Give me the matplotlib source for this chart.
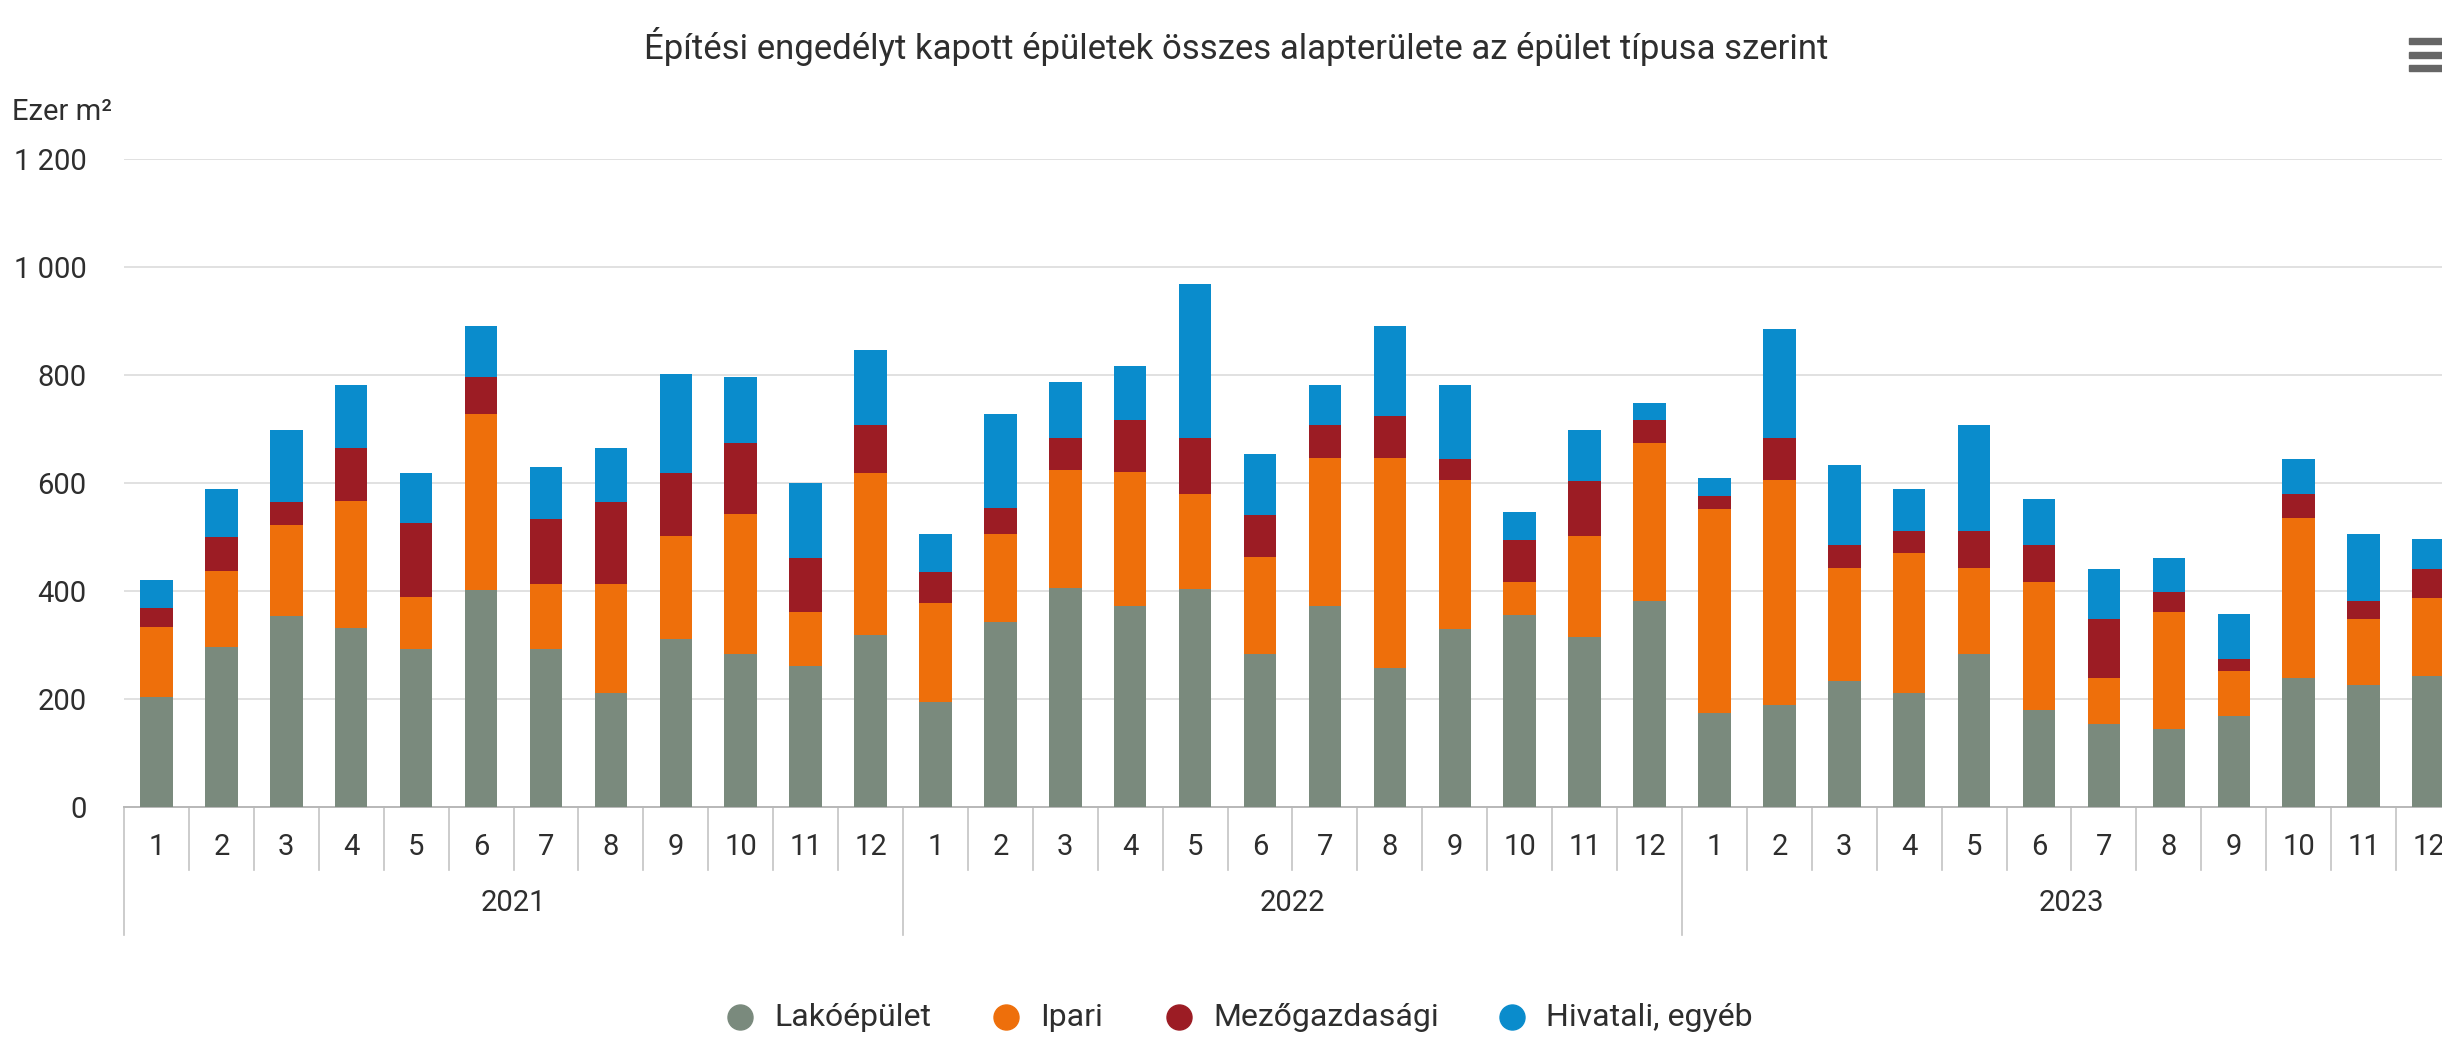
import matplotlib
matplotlib.use("Agg")
import matplotlib.pyplot as plt
import matplotlib.transforms as mtransforms
from matplotlib.lines import Line2D
from matplotlib.patches import Rectangle
import numpy as np

plt.rcParams["font.family"] = ["Roboto", "DejaVu Sans"]

# Data (ezer m2), 2021-01 .. 2023-12
years = ["2021", "2022", "2023"]
months = [str(m) for m in range(1, 13)]
series_names = ["Lakóépület", "Ipari", "Mezőgazdasági", "Hivatali, egyéb"]
colors = ["#7a8a7d", "#ee6f0b", "#9c1c24", "#0a8ccc"]

lakoepulet = [204, 296, 354, 332, 293, 401, 293, 211, 312, 284, 262, 318,
              195, 343, 406, 372, 404, 284, 372, 257, 329, 356, 314, 381,
              175, 188, 233, 211, 283, 179, 154, 145, 168, 239, 226, 242]
ipari = [130, 141, 168, 234, 95, 327, 120, 202, 190, 258, 100, 301,
         183, 163, 219, 249, 176, 179, 274, 389, 276, 61, 188, 293,
         377, 417, 209, 260, 159, 238, 85, 216, 83, 296, 122, 145]
mezogazdasagi = [34, 63, 43, 98, 138, 68, 121, 152, 117, 132, 100, 89,
                 57, 48, 58, 96, 103, 78, 62, 78, 39, 78, 102, 43,
                 24, 78, 44, 40, 69, 69, 109, 38, 23, 45, 33, 54]
hivatali = [53, 89, 134, 118, 93, 95, 96, 99, 183, 122, 138, 139,
            70, 174, 104, 99, 286, 113, 74, 167, 138, 51, 95, 31,
            34, 202, 148, 78, 197, 84, 93, 63, 83, 64, 124, 55]

W, H = 2442, 1054
fig = plt.figure(figsize=(W / 100, H / 100), dpi=100)
ax = fig.add_axes([124 / W, 1 - 807 / H, 2337 / W, 648 / H])

text_col = "#2e2e2e"
fs = 21

n = len(lakoepulet)
x = np.arange(n)
bottom = np.zeros(n)
for vals, col in zip([lakoepulet, ipari, mezogazdasagi, hivatali], colors):
    ax.bar(x, vals, width=0.5, bottom=bottom, color=col, zorder=3)
    bottom += np.array(vals)

ax.set_xlim(-0.5, n - 0.5)
ax.set_ylim(0, 1200)
ax.set_yticks(range(0, 1201, 200))
ax.set_yticklabels([f"{v:,}".replace(",", " ") for v in range(0, 1201, 200)],
                   fontsize=fs, color=text_col)
ax.tick_params(axis="y", length=0, pad=27)
ax.set_xticks([])
for v in range(200, 1201, 200):
    ax.axhline(v, color="#dcdcdc", linewidth=1.2, zorder=1)
for s in ["top", "right", "left"]:
    ax.spines[s].set_visible(False)
ax.spines["bottom"].set_color("#b8b8b8")
ax.spines["bottom"].set_linewidth(1.4)

# hierarchical x axis
trans = mtransforms.blended_transform_factory(ax.transData, ax.transAxes)
ah = 648.0
for i in range(n + 1):
    xb = i - 0.5
    depth = 128 if i % 12 == 0 else 63
    ax.plot([xb, xb], [0, -depth / ah], transform=trans, color="#c4c4c4",
            linewidth=1.2, clip_on=False)
for i in range(n):
    ax.text(i, -40 / ah, months[i % 12], transform=trans, ha="center",
            va="center", fontsize=fs, color=text_col)
for k, yr in enumerate(years):
    ax.text(k * 12 + 5.5, -96 / ah, yr, transform=trans, ha="center",
            va="center", fontsize=fs, color=text_col)

# title and unit
fig.text(1236 / W, 1 - 47 / H,
         "Építési engedélyt kapott épületek összes alapterülete az épület típusa szerint",
         ha="center", va="center", fontsize=25, color=text_col)
fig.text(12 / W, 1 - 112 / H, "Ezer m²", ha="left", va="center",
         fontsize=fs, color=text_col)

# menu icon
for yy in [38, 52, 65]:
    fig.add_artist(Rectangle((2409 / W, 1 - (yy + 6) / H), 40 / W, 6 / H,
                             transform=fig.transFigure, color="#666666"))

# legend
leg_y = 1 - 1017 / H
marker_x = [740, 1006, 1179, 1512]
for mx, name, col in zip(marker_x, series_names, colors):
    fig.add_artist(Line2D([mx / W], [leg_y], marker="o", markersize=18,
                          color=col, linestyle="none",
                          transform=fig.transFigure))
    fig.text((mx + 34) / W, leg_y, name, ha="left", va="center",
             fontsize=23, color=text_col)

fig.savefig("out.png", dpi=100)
